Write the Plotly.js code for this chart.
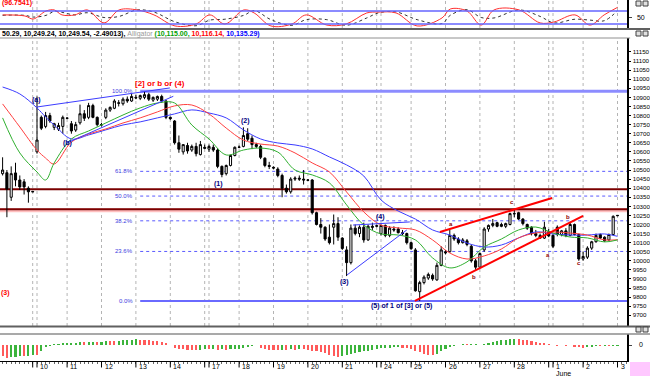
<!DOCTYPE html>
<html><head><meta charset="utf-8">
<script src="https://cdn.plot.ly/plotly-3.0.1.min.js"></script>
<style>html,body{margin:0;padding:0;background:#fff}#chart{width:650px;height:376px}</style>
</head><body><div id="chart"></div>
<script>
// ---- hourly candles (bar index 0 = first visible bar, May 7) ----
const openP = [10480,10485,10350,10484,10445,10435,10400,10382,
10600,10790,10740,10800,10735,10725,10740,10786,
10755,10720,10760,10810,10790,10855,10790,10750,
10790,10830,10840,10870,10865,10890,10880,10900,
10895,10900,10915,10885,10890,10905,10880,10790,
10770,10650,10600,10635,10610,10630,10585,10625,
10615,10625,10610,10520,10480,10525,10580,10625,
10630,10700,10675,10640,10630,10565,10525,10515,
10505,10470,10400,10380,10450,10455,10450,10445,
10445,10265,10200,10185,10130,10185,10205,10125,
10060,9990,10180,10150,10185,10115,10190,10190,
10150,10195,10140,10175,10175,10155,10150,10100,
10060,9830,9880,9905,9920,9895,9975,10050,
10050,10140,10120,10100,10110,10080,10000,9965,
10060,10175,10195,10210,10200,10190,10200,10260,
10265,10230,10200,10185,10150,10140,10125,10160,
10140,10185,10145,10165,10140,10200,10145,10010,
10020,10070,10105,10145,10130,10115,10145,10248];
const highP = [10570,10500,10520,10540,10470,10450,10410,10385,
10905,10800,10820,10815,10760,10760,10800,10790,
10770,10765,10860,10830,10870,10865,10795,10760,
10840,10850,10890,10885,10900,10905,10920,10915,
10915,10934,10925,10905,10910,10915,10885,10795,
10775,10690,10640,10650,10640,10650,10660,10640,
10640,10640,10620,10525,10530,10585,10630,10635,
10735,10730,10690,10650,10640,10570,10545,10520,
10515,10480,10420,10460,10465,10470,10500,10450,
10450,10270,10235,10190,10200,10255,10240,10130,
10080,10200,10200,10195,10210,10200,10210,10200,
10200,10200,10190,10190,10185,10170,10155,10105,
10070,9890,9920,9935,9930,9990,10080,10060,
10170,10150,10130,10125,10120,10090,10010,10045,
10185,10200,10230,10215,10210,10210,10265,10280,
10270,10235,10205,10190,10170,10150,10215,10175,
10145,10195,10170,10180,10215,10205,10150,10050,
10080,10110,10150,10150,10135,10150,10250,10252];
const lowP = [10470,10240,10330,10410,10390,10365,10320,10378,
10590,10720,10730,10760,10720,10715,10700,10780,
10700,10710,10750,10770,10780,10785,10740,10740,
10780,10820,10835,10850,10855,10870,10875,10890,
10885,10890,10880,10875,10880,10870,10780,10775,
10640,10595,10585,10590,10600,10575,10580,10615,
10600,10600,10510,10460,10470,10520,10575,10620,
10625,10660,10615,10620,10560,10515,10505,10505,
10460,10350,10370,10370,10440,10440,10420,10440,
10255,10195,10150,10110,10090,10090,10110,10060,
9916,9980,10140,10130,10100,10110,10170,10185,
10140,10130,10130,10160,10150,10140,10090,10060,
9830,9779,9870,9895,9890,9890,9970,10035,
10045,10110,10090,10095,10080,9990,9950,9960,
10050,10160,10185,10185,10185,10180,10195,10240,
10225,10195,10170,10140,10130,10120,10120,10130,
10070,10135,10135,10130,10135,10140,10000,10000,
10010,10060,10100,10120,10105,10110,10140,10246];
const closeP = [10500,10395,10480,10445,10407,10407,10380,10380,
10665,10730,10800,10770,10755,10745,10790,10785,
10715,10750,10810,10785,10855,10790,10750,10748,
10830,10845,10880,10868,10890,10880,10905,10897,
10910,10915,10890,10900,10905,10880,10790,10783,
10650,10615,10640,10605,10630,10590,10640,10620,
10630,10610,10520,10475,10525,10580,10625,10626,
10690,10670,10640,10630,10570,10525,10520,10511,
10470,10400,10380,10450,10455,10450,10445,10444,
10265,10200,10185,10120,10100,10205,10130,10068,
9990,10180,10150,10185,10115,10190,10185,10193,
10195,10140,10180,10170,10155,10150,10100,10067,
9835,9880,9910,9925,9900,9975,10060,10044,
10140,10120,10100,10115,10090,10000,9965,10040,
10175,10195,10205,10190,10190,10205,10260,10259,
10230,10205,10180,10150,10140,10125,10185,10137,
10080,10145,10165,10140,10200,10145,10010,10024,
10070,10105,10140,10125,10110,10145,10245,10250];

// ---- Alligator lines, read at sample bars ----
const lineIdx = [0,4,8,10,12,16,20,24,28,32,36,40,44,48,52,56,60,64,68,72,76,80,84,88,92,96,100,104,108,112,116,120,124,128,132,136,140,143];
const jawBlue = [10957,10919,10842,10792,10748,10671,10693,10721,10748,10765,10787,10809,10831,10814,10787,10721,10671,10649,10638,10616,10572,10528,10467,10335,10274,10230,10170,10142,10098,10076,10087,10126,10159,10148,10142,10142,10148,10135];
const teethRed = [10864,10737,10610,10566,10533,10654,10698,10726,10759,10787,10820,10853,10858,10809,10731,10665,10643,10632,10594,10539,10489,10379,10269,10197,10181,10170,10115,10043,10010,10027,10065,10126,10153,10159,10153,10142,10115,10116];
const lipsGreen = [10787,10594,10489,10445,10539,10671,10715,10759,10803,10842,10869,10869,10748,10671,10583,10610,10621,10599,10500,10473,10429,10308,10197,10148,10142,10115,10016,9961,9994,10076,10120,10170,10186,10153,10131,10126,10104,10115];

// ---- stochastic (top panel) ----
const stochIdx = [0,5.2,7.1,10.1,12,13.8,16.8,19.7,23.6,27.1,31.3,35.2,40.1,45,48.2,51.7,56.1,58.5,62.4,67.3,70.6,75.4,79.9,84.7,87.5,91.5,96.4,102.2,104.1,108,111.3,114.3,120.1,125,128.2,133.1,136.6,139.9,143];
const stochK = [62,57,43,80,85,62,62,85,25,85,85,62,11,20,62,20,85,71,11,20,62,15,20,71,75,71,11,48,89,80,15,85,85,25,29,62,15,62,96.75];
const stochD = [60,60,52,60,78,74,62,72,50,55,85,75,30,12,38,42,60,82,40,14,40,40,14,48,72,76,40,22,60,86,50,48,85,55,25,42,38,35,82];
const stochLevels = [80,20];

// ---- histogram (bottom panel) ----
const gator = [-105,-125,-122,-118,-110,-113,-105,-95,
-100,-55,-15,-5,12,15,18,20,
22,25,28,26,30,33,32,35,
45,43,40,42,48,52,55,58,
55,52,48,42,38,30,25,5,
-30,-35,-40,-45,-48,-50,-45,-40,
-42,-38,-45,-40,-48,-44,-40,-38,
-25,-20,-5,-3,-25,-38,-45,-48,
-50,-45,-48,-42,-46,-40,-44,-48,
-55,-60,-68,-80,-95,-110,-115,-105,
-98,-90,-80,-70,-62,-55,-48,-40,
-32,-28,-25,-22,-20,-25,-32,-38,
-55,-70,-85,-95,-100,-90,-60,-35,
-20,-5,5,8,6,8,10,5,
15,18,30,42,50,55,60,65,
62,55,48,40,32,25,18,10,
5,-5,5,-5,3,-18,-22,-25,
-20,-15,-10,-12,-8,-10,-6,-5];

// ---- time axis ----
const dayLineIdx = [7,15,23,31,39,47,55,63,71,79,87,95,103,111,119,127,135,143];
const weekLineIdx = [8,48,88,128];
const dayLabelIdx = [8,15,23,31,39,48,55,63,71,79,88,95,103,111,119,128,135,143];
const dayLabels = ['10','11','12','13','14','17','18','19','20','21','24','25','26','27','28','1','2','3'];
const monthLabelIdx = 128, monthLabel = 'June';
const priceTicks = [9700,9750,9800,9850,9900,9950,10000,10050,10100,10150,10200,10250,10300,10350,10400,10450,10500,10550,10600,10650,10700,10750,10800,10850,10900,10950,11000,11050,11100,11150];

// ---- drawing tools ----
const fibHigh = 10934, fibLow = 9779, fibStartIdx = 32;
const fibRatios = [1, 0.618, 0.5, 0.382, 0.236, 0];
const fibLabels = ['100.0%','61.8%','50.0%','38.2%','23.6%','0.0%'];
const levelLines = [10394, 10284];
const blueTrend = [[8,10847,38.9,10952],[14.9,10649,39.7,10906],[81.5,10197,94.7,10214],[80.1,9922,94.0,10170]];
const redTrend = [[101.7,10159,127.8,10346],[95.9,9779,135,10247]];
const waveText = ['(a)','(b)','(1)','(2)','(3)','(4)','(5) of 1 of [3] or (5)','[2] or b or (4)','a','b','c','a','b','c','(3)'];
const waveIdx = [7.8,15.2,50.1,56.4,79.6,87.8,92.7,36.6,104.3,109.6,118.5,126.8,131.5,134.0,0.6];
const waveVal = [10886,10649,10423,10770,9883,10241,9751,10977,10203,9911,10324,10032,10241,9988,9823];
const waveKind = ['w','w','w','w','w','w','w','r','s','s','s','s','s','s','r'];

const idx = closeP.map((_, i) => i);
const X0 = -0.605, X1 = 145.21;
const FONT = 'Liberation Sans, Arial, sans-serif';
const dMain = [0.09695, 0.89474], dBot = [0, 0.07479], dTop = [0.92244, 1];

const gColors = gator.map((v, i) => (i > 0 && v > gator[i-1]) ? '#3cb43c' : '#ff5a5a');

const traces = [
  {type:'candlestick', x:idx, open:openP, high:highP, low:lowP, close:closeP, xaxis:'x', yaxis:'y',
   increasing:{line:{color:'#000', width:1}, fillcolor:'#fff'},
   decreasing:{line:{color:'#000', width:1}, fillcolor:'#000'},
   whiskerwidth:0, hoverinfo:'skip'},
  {type:'scatter', mode:'lines', x:lineIdx, y:jawBlue, yaxis:'y', line:{color:'#3c3cff', width:1, shape:'spline', smoothing:1}, hoverinfo:'skip'},
  {type:'scatter', mode:'lines', x:lineIdx, y:teethRed, yaxis:'y', line:{color:'#ff4040', width:1, shape:'spline', smoothing:1}, hoverinfo:'skip'},
  {type:'scatter', mode:'lines', x:lineIdx, y:lipsGreen, yaxis:'y', line:{color:'#30b030', width:1, shape:'spline', smoothing:1}, hoverinfo:'skip'},
  {type:'scatter', mode:'lines', x:stochIdx, y:stochD, yaxis:'y3', line:{color:'#333', width:1, dash:'dot', shape:'spline', smoothing:1}, hoverinfo:'skip'},
  {type:'scatter', mode:'lines', x:stochIdx, y:stochK, yaxis:'y3', line:{color:'#ff3030', width:1, shape:'spline', smoothing:1}, hoverinfo:'skip'},
  {type:'bar', x:idx, y:gator, yaxis:'y2', marker:{color:gColors, line:{width:0}}, width:0.5, hoverinfo:'skip'}
];

const shapes = [];
dayLineIdx.concat(weekLineIdx).forEach(i => {
  [dMain, dTop].forEach(d => shapes.push({type:'line', xref:'x', yref:'paper', x0:i, x1:i, y0:d[0], y1:d[1], layer:'below', line:{color:'#b4b4b4', width:1, dash:'dot'}}));
  shapes.push({type:'line', xref:'x', yref:'paper', x0:i, x1:i, y0:-0.018, y1:0, line:{color:'#000', width:1}});
});
stochLevels.forEach(v => shapes.push({type:'line', xref:'paper', yref:'y3', x0:0, x1:1, y0:v, y1:v, line:{color:'#6464ff', width:1.5}}));
fibRatios.forEach((r, k) => {
  const v = fibLow + r * (fibHigh - fibLow);
  const solid = (r === 1 || r === 0);
  shapes.push({type:'line', xref:'x', yref:'y', x0:fibStartIdx, x1:X1, y0:v, y1:v, layer:'below',
    line: solid ? {color: r === 1 ? '#8c8cff' : '#6a6aff', width: r === 1 ? 3 : 2} : {color:'#5a5aff', width:1, dash:'dot'}});
});
shapes.push({type:'line', xref:'x', yref:'y', x0:X0, x1:X1, y0:levelLines[1]-6, y1:levelLines[1]-6, layer:'below', line:{color:'#ffc0c0', width:4}});
levelLines.forEach(v => shapes.push({type:'line', xref:'x', yref:'y', x0:X0, x1:X1, y0:v, y1:v, layer:'below', line:{color:'#7a0000', width:2}}));
blueTrend.forEach(t => shapes.push({type:'line', xref:'x', yref:'y', x0:t[0], y0:t[1], x1:t[2], y1:t[3], line:{color:'#3c3cff', width:1}}));
redTrend.forEach(t => shapes.push({type:'line', xref:'x', yref:'y', x0:t[0], y0:t[1], x1:t[2], y1:t[3], line:{color:'#ff0000', width:2}}));
const pxY = p => 1 - p / 361;
shapes.push({type:'line', xref:'paper', yref:'paper', x0:0, x1:1.037, y0:pxY(29), y1:pxY(29), line:{color:'#606060', width:2}});
shapes.push({type:'line', xref:'paper', yref:'paper', x0:0, x1:1.005, y0:pxY(38), y1:pxY(38), line:{color:'#909090', width:1}});
shapes.push({type:'line', xref:'paper', yref:'paper', x0:0, x1:1.037, y0:pxY(326.5), y1:pxY(326.5), line:{color:'#606060', width:2}});
shapes.push({type:'line', xref:'paper', yref:'paper', x0:0, x1:1.037, y0:pxY(334), y1:pxY(334), line:{color:'#8c8c8c', width:1.5}});
[1, 31, 327].forEach(p => {
  [0, 1].forEach(k => shapes.push({type:'rect', xref:'paper', yref:'paper', x0:(636+k*7)/627, x1:(641+k*7)/627, y0:pxY(p+5), y1:pxY(p), line:{color:'#404040', width:1}, fillcolor:'#e0e0e0'}));
});
shapes.push({type:'rect', xref:'paper', yref:'paper', x0:630/627, x1:650/627, y0:pxY(376), y1:pxY(362), line:{width:0}, fillcolor:'#ffc8ff'});

const annotations = [];
dayLabelIdx.forEach((i, k) => annotations.push({x:i, xref:'x', y:-0.014, yref:'paper', text:dayLabels[k], showarrow:false, xanchor:'left', yanchor:'middle', xshift:1, font:{family:FONT, size:7, color:'#000'}}));
annotations.push({x:monthLabelIdx, xref:'x', y:-0.034, yref:'paper', text:monthLabel, showarrow:false, xanchor:'left', yanchor:'middle', xshift:1, font:{family:FONT, size:7, color:'#000'}});
fibRatios.forEach((r, k) => annotations.push({x:fibStartIdx - 1.1, xref:'x', y:fibLow + r*(fibHigh-fibLow), yref:'y', text:fibLabels[k], showarrow:false, xanchor:'right', yanchor:'middle', font:{family:FONT, size:6, color:'#4040e0'}}));
waveText.forEach((t, k) => {
  const kind = waveKind[k];
  const col = kind === 'w' ? '#000080' : (kind === 'r' ? '#ff0000' : '#900000');
  const sz = kind === 'r' && t.length > 5 ? 8 : (kind === 's' ? 6 : 7);
  annotations.push({x:waveIdx[k], xref:'x', y:waveVal[k], yref:'y', text:'<b>'+t+'</b>', showarrow:false, xanchor:'center', yanchor:'middle', font:{family:FONT, size:sz, color:col}});
});
annotations.push({x:0, xref:'paper', y:pxY(34), yref:'paper', xanchor:'left', yanchor:'middle', showarrow:false,
  text:'<b>50.29, 10,249.24, 10,249.54, -2.49013), </b><span style="color:#9a9a9a">Alligator </span><b><span style="color:#00a000">(10,115.00, </span><span style="color:#ff0000">10,116.14, </span><span style="color:#0000ff">10,135.29)</span></b>',
  font:{family:FONT, size:7, color:'#000'}});
annotations.push({x:0, xref:'paper', y:pxY(2.5), yref:'paper', xanchor:'left', yanchor:'middle', showarrow:false, text:'<b>(96.7541)</b>', font:{family:FONT, size:7, color:'#ff0000'}});

const axFont = {family:FONT, size:6.2, color:'#000'};
const layout = {
  width:650, height:376, margin:{l:0, r:23, t:0, b:15, pad:0},
  paper_bgcolor:'#fff', plot_bgcolor:'#fff', showlegend:false, bargap:0,
  xaxis:{range:[X0, X1], anchor:'y2', showgrid:false, zeroline:false, showline:true, linecolor:'#000', linewidth:1,
    ticks:'outside', tickmode:'linear', tick0:0, dtick:1, ticklen:2, tickcolor:'#666', showticklabels:false,
    rangeslider:{visible:false}, fixedrange:true},
  yaxis:{domain:dMain, range:[9641, 11227], side:'right', anchor:'x', tickmode:'array', tickvals:priceTicks, ticktext:priceTicks.map(String),
    ticks:'outside', ticklen:2, tickcolor:'#000', tickfont:axFont, ticklabelstandoff:1, showline:true, linecolor:'#000', linewidth:1.5,
    showgrid:false, zeroline:false, fixedrange:true},
  yaxis2:{domain:dBot, range:[-160, 110], side:'right', anchor:'x', tickmode:'array', tickvals:[0], ticktext:['0'], ticks:'outside', ticklen:3,
    tickfont:{family:FONT, size:7, color:'#000'}, ticklabelstandoff:6, showline:true, linecolor:'#000', linewidth:1.5, showgrid:false, zeroline:false, fixedrange:true},
  yaxis3:{domain:dTop, range:[1.5, 130.8], side:'right', anchor:'x', tickmode:'array', tickvals:[50], ticktext:['50'], ticks:'outside', ticklen:3,
    tickfont:{family:FONT, size:7, color:'#000'}, ticklabelstandoff:4, showline:true, linecolor:'#000', linewidth:1.5, showgrid:false, zeroline:false, fixedrange:true},
  shapes:shapes, annotations:annotations
};
Plotly.newPlot('chart', traces, layout, {staticPlot:true, displayModeBar:false});
</script></body></html>
